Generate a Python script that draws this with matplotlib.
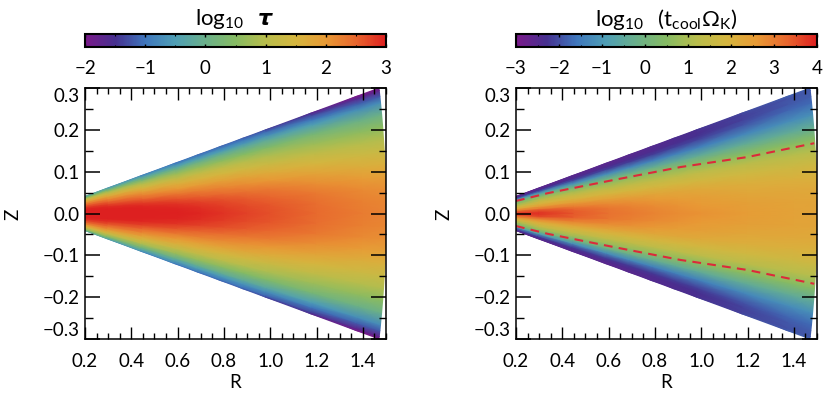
import numpy as np
import matplotlib
matplotlib.use('Agg')
import matplotlib.pyplot as plt
from matplotlib.colors import LinearSegmentedColormap
from matplotlib.ticker import MultipleLocator

plt.rcParams['font.family'] = ['Lato', 'DejaVu Sans']
plt.rcParams['mathtext.fontset'] = 'custom'
plt.rcParams['mathtext.rm'] = 'Lato'
plt.rcParams['mathtext.bfit'] = 'DejaVu Sans:italic:bold'

# spherical radius and z/R of the table rows and columns (upper half, mirrored below)
radius = [0.19, 0.3, 0.45, 0.6, 0.7, 0.8, 0.9, 1.0, 1.2, 1.4, 1.5]
slope = [0.0, 0.02, 0.04, 0.06, 0.08, 0.10, 0.12, 0.14, 0.16, 0.18, 0.19, 0.20, 0.204]

log_tau = [
    [3.00, 3.00, 3.00, 2.95, 2.80, 2.60, 2.30, 1.95, 1.50, 0.90, 0.50, 0.10, -0.20],
    [3.00, 3.00, 3.00, 2.90, 2.70, 2.45, 2.15, 1.75, 1.30, 0.70, 0.30, -0.10, -0.40],
    [3.05, 3.02, 2.95, 2.76, 2.50, 2.20, 1.85, 1.45, 0.95, 0.30, -0.10, -0.50, -0.80],
    [3.00, 2.98, 2.85, 2.62, 2.33, 2.00, 1.64, 1.20, 0.70, 0.00, -0.40, -0.75, -1.00],
    [2.95, 2.90, 2.75, 2.52, 2.24, 1.92, 1.56, 1.14, 0.64, -0.04, -0.47, -0.85, -1.05],
    [2.85, 2.80, 2.67, 2.44, 2.17, 1.86, 1.48, 1.07, 0.57, -0.10, -0.55, -0.92, -1.10],
    [2.75, 2.70, 2.58, 2.37, 2.10, 1.78, 1.39, 0.98, 0.49, -0.17, -0.62, -1.00, -1.15],
    [2.66, 2.62, 2.50, 2.30, 2.02, 1.68, 1.30, 0.90, 0.42, -0.25, -0.70, -1.10, -1.30],
    [2.47, 2.43, 2.33, 2.12, 1.83, 1.50, 1.13, 0.73, 0.25, -0.50, -0.95, -1.35, -1.60],
    [2.28, 2.25, 2.16, 1.96, 1.66, 1.34, 0.98, 0.58, 0.07, -0.70, -1.15, -1.70, -2.00],
    [2.22, 2.19, 2.10, 1.90, 1.60, 1.28, 0.93, 0.53, 0.02, -0.75, -1.20, -1.75, -2.00],
]

log_tcool = [
    [3.80, 3.40, 2.80, 2.15, 1.55, 0.95, 0.35, 0.20, -0.80, -1.90, -2.20, -2.50, -2.60],
    [3.85, 3.65, 3.05, 2.45, 2.00, 1.55, 1.00, 0.30, -0.70, -1.90, -2.30, -2.50, -2.60],
    [3.45, 3.35, 2.95, 2.45, 1.95, 1.50, 0.90, 0.00, -1.10, -2.10, -2.40, -2.50, -2.55],
    [3.15, 3.08, 2.82, 2.40, 1.90, 1.40, 0.80, -0.10, -1.20, -2.15, -2.40, -2.55, -2.55],
    [3.02, 2.95, 2.72, 2.35, 1.88, 1.38, 0.75, -0.20, -1.30, -2.20, -2.42, -2.52, -2.52],
    [2.90, 2.82, 2.62, 2.30, 1.85, 1.33, 0.68, -0.30, -1.40, -2.20, -2.40, -2.48, -2.48],
    [2.78, 2.70, 2.52, 2.25, 1.83, 1.32, 0.65, -0.35, -1.40, -2.15, -2.35, -2.40, -2.38],
    [2.70, 2.60, 2.45, 2.20, 1.80, 1.30, 0.60, -0.40, -1.40, -2.10, -2.30, -2.35, -2.30],
    [2.50, 2.45, 2.30, 2.10, 1.75, 1.25, 0.55, -0.40, -1.30, -1.95, -2.10, -2.10, -2.05],
    [2.40, 2.38, 2.25, 2.05, 1.70, 1.20, 0.50, -0.40, -1.20, -1.75, -1.90, -1.95, -1.85],
    [2.38, 2.35, 2.22, 2.02, 1.68, 1.18, 0.48, -0.40, -1.18, -1.72, -1.85, -1.90, -1.80],
]

# red dashed curve on the right panel
dash_r = [0.2, 0.337, 0.625, 0.91, 1.2, 1.488]
dash_z = [0.030, 0.0486, 0.0805, 0.111, 0.135, 0.168]

cmap = LinearSegmentedColormap.from_list('rainbow_print', [
    '#7a1a8a', '#46308f', '#3f77bd', '#4f9fb5', '#6ab08a', '#86bb63',
    '#b8bd4c', '#d5b63f', '#e89a35', '#e8672e', '#dd2020'])


def mirror(table):
    t = np.array(table)
    return np.hstack([t[:, :0:-1], t])


W, H = 830.0, 395.0
fig = plt.figure(figsize=(8.3, 3.95), dpi=100)

sl = np.array(slope)
th = np.arctan(np.concatenate([-sl[:0:-1], sl]))
rr, tt = np.meshgrid(radius, th, indexing='ij')
R = rr * np.cos(tt)
Z = rr * np.sin(tt)

panels = [
    (85, log_tau, -2, 3, r'$\mathrm{log_{10}}\ \ \mathbfit{\tau}$', False),
    (516, log_tcool, -3, 4, r'$\mathrm{log_{10}}\ \ (\mathrm{t_{cool}\Omega_K})$', True),
]

for x0, table, vmin, vmax, title, dashed in panels:
    ax = fig.add_axes([x0 / W, 1 - 339 / H, 301 / W, 251 / H])
    mesh = ax.pcolormesh(R, Z, mirror(table), shading='gouraud', cmap=cmap,
                         vmin=vmin, vmax=vmax, rasterized=True)
    if dashed:
        for sign in (1, -1):
            ax.plot(dash_r, sign * np.array(dash_z), color='#dc2a3a', lw=1.5,
                    dashes=(4.2, 3.0))
    ax.set_xlim(0.2, 1.5)
    ax.set_ylim(-0.3, 0.3)
    ax.xaxis.set_major_locator(MultipleLocator(0.2))
    ax.xaxis.set_minor_locator(MultipleLocator(0.05))
    ax.yaxis.set_major_locator(MultipleLocator(0.1))
    ax.yaxis.set_minor_locator(MultipleLocator(0.05))
    ax.tick_params(axis='x', which='major', direction='in', top=True, length=8.6,
                   width=1.0, labelsize=13.5, pad=10)
    ax.tick_params(axis='x', which='minor', direction='in', top=True, length=4, width=1.0)
    ax.tick_params(axis='y', which='major', direction='in', right=True, length=10.8,
                   width=1.1, labelsize=13.5, pad=4)
    ax.tick_params(axis='y', which='minor', direction='in', right=True, length=5.4, width=1.0)
    ax.set_yticks([-0.3, -0.2, -0.1, 0.0, 0.1, 0.2, 0.3])
    ax.set_yticklabels(['\u22120.3', '\u22120.2', '\u22120.1', '0.0', '0.1', '0.2', '0.3'])
    ylabels = ax.get_yticklabels()
    ylabels[0].set_va('bottom')
    ylabels[-1].set_va('top')
    ax.set_xlabel('R', fontsize=13.5, labelpad=3)
    ax.text((x0 - 72) / W, 1 - 214 / H, 'Z', transform=fig.transFigure, rotation=90,
            fontsize=13.5, ha='center', va='center')
    for s in ax.spines.values():
        s.set_linewidth(1.1)

    cax = fig.add_axes([x0 / W, 1 - 47 / H, 301 / W, 13.5 / H])
    cb = fig.colorbar(mesh, cax=cax, orientation='horizontal')
    cb.outline.set_linewidth(1.5)
    cax.xaxis.set_major_locator(MultipleLocator(1))
    cax.xaxis.set_minor_locator(MultipleLocator(0.5))
    cax.tick_params(axis='x', which='major', direction='in', top=True, length=2.5,
                    width=1.0, labelsize=13.5, pad=9)
    cax.tick_params(axis='x', which='minor', direction='in', top=True, length=1.5, width=0.8)
    fig.text((x0 + 150) / W, 1 - 19 / H, title, fontsize=16, ha='center', va='center')

fig.savefig('out.png', dpi=100)
